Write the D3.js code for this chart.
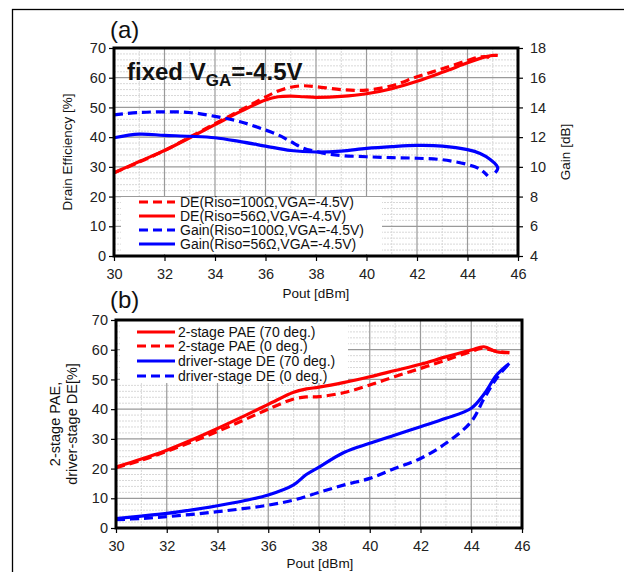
<!DOCTYPE html>
<html><head><meta charset="utf-8">
<script src="https://cdn.jsdelivr.net/npm/d3@7"></script>
<style>body{margin:0;background:#fff}svg{display:block;font-family:"Liberation Sans",Arial,sans-serif}</style>
</head><body>
<svg id="c" width="624" height="572"></svg>
<script>
// ---------- Data ----------
const xTicks = [30,32,34,36,38,40,42,44,46];
const deTicks = [0,10,20,30,40,50,60,70];
const gainTicks = [4,6,8,10,12,14,16,18];
const pTicks = [0,10,20,30,40,50,60,70];

// (a) Drain efficiency [%] vs Pout
const de100_x = [30,31,32,33,34,35,36,36.5,37,37.5,38,39,40,41,42,43,44,44.5,44.8,44.95];
const de100_y = [28,31.6,35.5,40,44.5,49,53.5,55.5,56.8,57.3,57,56,55.8,57.3,60.3,63,65.8,67,67,65.6];
const de56_x = [30,31,32,33,34,35,36,36.5,37,37.5,38,39,40,41,42,43,44,44.5,45,45.2];
const de56_y = [28,31.8,35.5,39.8,44.2,48.6,52.5,53.6,53.8,53.6,53.4,53.7,54.6,56.3,58.8,61.8,65,66.5,67.5,67.5];
// (a) Gain [dB] vs Pout
const g100_x = [30,31,32,33,34,35,36,36.5,37,37.5,38,38.5,39,40,41,42,43,44,44.5,44.8];
const g100_y = [13.5,13.66,13.7,13.66,13.4,13.04,12.48,12.15,11.7,11.26,11.04,10.86,10.76,10.68,10.62,10.58,10.48,10.16,9.84,9.4];
const g56_x = [30,31,32,33,34,35,36,37,38,39,40,41,42,43,44,44.5,44.9,45.15,45.2,45.1];
const g56_y = [11.96,12.2,12.12,12.06,11.96,11.7,11.4,11.1,11.0,11.06,11.24,11.36,11.44,11.4,11.16,10.9,10.5,10.1,9.9,9.6];

// (b) PAE / DE [%] vs Pout
const pae70_x = [30,31,32,33,34,35,36,37,37.5,38,39,40,41,42,43,44,44.5,45,45.5];
const pae70_y = [20.5,23.2,26.2,29.7,33.5,37.5,41.6,45.7,46.8,47.4,49,50.9,53,55.1,57.6,59.9,61,59.3,59];
const pae0_x = [30,31,32,33,34,35,36,37,37.5,38,39,40,41,42,43,44,44.4,45,45.5];
const pae0_y = [20.3,22.8,25.8,29,32.5,36.2,40,43.4,44.1,44.2,45.6,48.1,51,53.7,56.5,59.4,60.4,59.5,59];
const drv70_x = [30,31,32,33,34,35,36,37,37.5,38,39,40,41,42,43,44,44.5,45,45.5];
const drv70_y = [3.2,4,4.9,6.1,7.5,9.1,11.1,14.5,18,20.5,25.5,28.5,31.3,34.1,36.9,40.3,45,51.5,55.4];
const drv0_x = [30,31,32,33,34,35,36,37,38,39,40,41,42,43,44,44.5,45,45.5];
const drv0_y = [2.8,3.2,3.8,4.6,5.5,6.5,7.7,9.4,12,14.5,16.7,20.1,23.4,28.5,35.8,43.5,50.4,55.4];

const legendA = ["DE(Riso=100\u03A9,VGA=-4.5V)","DE(Riso=56\u03A9,VGA=-4.5V)","Gain(Riso=100\u03A9,VGA=-4.5V)","Gain(Riso=56\u03A9,VGA=-4.5V)"];
const legendB = ["2-stage PAE (70 deg.)","2-stage PAE (0 deg.)","driver-stage DE (70 deg.)","driver-stage DE (0 deg.)"];

// ---------- Drawing ----------
const svg = d3.select("#c");
const RED = "#ff0000", BLUE = "#0000ff";
const DASH = "9,5";

svg.append("rect").attr("x",12.5).attr("y",9.5).attr("width",640).attr("height",600)
  .attr("fill","none").attr("stroke","#000").attr("stroke-width",1.3);

function zip(xs, ys){ return xs.map((x,i)=>[x,ys[i]]); }

function panel(o){
  const g = svg.append("g");
  const x = d3.scaleLinear().domain([30,46]).range([o.l,o.r]);
  const y = d3.scaleLinear().domain([0,70]).range([o.b,o.t]);
  g.selectAll(".mv").data(d3.range(31,46,2)).join("line")
    .attr("x1",d=>x(d)).attr("x2",d=>x(d)).attr("y1",o.t).attr("y2",o.b)
    .attr("stroke","#d8d8d8").attr("stroke-width",1).attr("stroke-dasharray","2,1");
  g.selectAll(".mh").data(d3.range(2,70,2).filter(d=>d%10!==0)).join("line")
    .attr("x1",o.l).attr("x2",o.r).attr("y1",d=>y(d)).attr("y2",d=>y(d))
    .attr("stroke","#d8d8d8").attr("stroke-width",1).attr("stroke-dasharray","2,1");
  g.selectAll(".Mv").data(xTicks.slice(1,-1)).join("line")
    .attr("x1",d=>x(d)).attr("x2",d=>x(d)).attr("y1",o.t).attr("y2",o.b)
    .attr("stroke","#9a9a9a").attr("stroke-width",1.2);
  g.selectAll(".Mh").data(o.yt.slice(1,-1)).join("line")
    .attr("x1",o.l).attr("x2",o.r).attr("y1",d=>y(d)).attr("y2",d=>y(d))
    .attr("stroke","#9a9a9a").attr("stroke-width",1.2);
  return {g,x,y};
}

function axes(P,o,yTicksArr){
  const ax = P.g.append("g").attr("transform",`translate(0,${o.b})`)
    .call(d3.axisBottom(P.x).tickValues(xTicks).tickSize(5).tickSizeOuter(0));
  ax.select(".domain").remove();
  ax.selectAll("line").attr("stroke","#000").attr("stroke-width",1.2);
  ax.selectAll("text").attr("font-size",14.5).attr("fill","#222").attr("dy","1.05em").attr("font-family","Liberation Sans, Arial, sans-serif");
  const ay = P.g.append("g").attr("transform",`translate(${o.l},0)`)
    .call(d3.axisLeft(P.y).tickValues(yTicksArr).tickSize(5).tickSizeOuter(0));
  ay.select(".domain").remove();
  ay.selectAll("line").attr("stroke","#000").attr("stroke-width",1.2);
  ay.selectAll("text").attr("font-size",14.5).attr("fill","#222").attr("x",-8).attr("font-family","Liberation Sans, Arial, sans-serif");
}

function curve(P, yscale, xs, ys, color, dashed){
  const line = d3.line().x(d=>P.x(d[0])).y(d=>yscale(d[1])).curve(d3.curveCatmullRom.alpha(0.5));
  P.g.append("path").datum(zip(xs,ys)).attr("d",line).attr("fill","none")
    .attr("stroke",color).attr("stroke-width",3.2).attr("stroke-linejoin","round")
    .attr("stroke-dasharray",dashed?DASH:null);
}

function legend(P, box, items, styles, lineX1, lineX2, textX, rowY){
  P.g.append("rect").attr("x",box[0]).attr("y",box[1]).attr("width",box[2]).attr("height",box[3]).attr("fill","#fff");
  items.forEach((t,i)=>{
    const yy = rowY[i];
    P.g.append("line").attr("x1",lineX1).attr("x2",lineX2).attr("y1",yy).attr("y2",yy)
      .attr("stroke",styles[i][0]).attr("stroke-width",3.2).attr("stroke-dasharray",styles[i][1]?DASH:null);
    P.g.append("text").attr("x",textX).attr("y",yy+5).attr("font-size",14).attr("fill","#111").text(t);
  });
}

// ----- Panel (a)
const oa = {l:114,r:518,t:48,b:256,yt:deTicks};
const A = panel(oa);
const gy = d3.scaleLinear().domain([4,18]).range([oa.b,oa.t]);
legend(A,[121,197,261,57],legendA,[[RED,true],[RED,false],[BLUE,true],[BLUE,false]],139,175,180,[202,216,230,244]);
curve(A,A.y,de56_x,de56_y,RED,false);
curve(A,A.y,de100_x,de100_y,RED,true);
curve(A,gy,g100_x,g100_y,BLUE,true);
curve(A,gy,g56_x,g56_y,BLUE,false);
axes(A,oa,deTicks);
const ar = A.g.append("g").attr("transform",`translate(${oa.r},0)`)
  .call(d3.axisRight(gy).tickValues(gainTicks).tickSize(5).tickSizeOuter(0));
ar.select(".domain").remove();
ar.selectAll("line").attr("stroke","#000").attr("stroke-width",1.2);
ar.selectAll("text").attr("font-size",14.5).attr("fill","#222").attr("x",12).attr("font-family","Liberation Sans, Arial, sans-serif");
A.g.append("rect").attr("x",oa.l).attr("y",oa.t).attr("width",oa.r-oa.l).attr("height",oa.b-oa.t)
  .attr("fill","none").attr("stroke","#000").attr("stroke-width",3);

// titles (a)
svg.append("text").attr("x",110).attr("y",38).attr("font-size",24).attr("fill","#111").text("(a)");
const ft = svg.append("text").attr("x",127).attr("y",80).attr("font-size",24).attr("font-weight","bold").attr("fill","#111");
ft.append("tspan").text("fixed V");
ft.append("tspan").attr("font-size",17).attr("dy",6).text("GA");
ft.append("tspan").attr("dy",-6).text("=-4.5V");
svg.append("text").attr("transform","translate(72,152) rotate(-90)").attr("text-anchor","middle")
  .attr("font-size",13.5).attr("fill","#111").text("Drain Efficiency [%]");
svg.append("text").attr("transform","translate(570,152) rotate(-90)").attr("text-anchor","middle")
  .attr("font-size",13.5).attr("fill","#111").text("Gain [dB]");
svg.append("text").attr("x",316).attr("y",298).attr("text-anchor","middle")
  .attr("font-size",13.5).attr("fill","#111").text("Pout [dBm]");

// ----- Panel (b)
const ob = {l:116,r:522,t:320,b:528,yt:pTicks};
const B = panel(ob);
legend(B,[120,321,228,62],legendB,[[RED,false],[RED,true],[BLUE,false],[BLUE,true]],137,175,178,[332,346,361,376]);
curve(B,B.y,pae0_x,pae0_y,RED,true);
curve(B,B.y,pae70_x,pae70_y,RED,false);
curve(B,B.y,drv0_x,drv0_y,BLUE,true);
curve(B,B.y,drv70_x,drv70_y,BLUE,false);
axes(B,ob,pTicks);
B.g.append("rect").attr("x",ob.l).attr("y",ob.t).attr("width",ob.r-ob.l).attr("height",ob.b-ob.t)
  .attr("fill","none").attr("stroke","#000").attr("stroke-width",3);

svg.append("text").attr("x",110).attr("y",308).attr("font-size",24).attr("fill","#111").text("(b)");
const yb = svg.append("text").attr("transform","translate(60,424) rotate(-90)").attr("text-anchor","middle")
  .attr("font-size",14.5).attr("fill","#111");
yb.append("tspan").attr("x",0).attr("dy",0).text("2-stage PAE,");
yb.append("tspan").attr("x",0).attr("dy",17).text("driver-stage DE[%]");
svg.append("text").attr("x",320).attr("y",568).attr("text-anchor","middle")
  .attr("font-size",13.5).attr("fill","#111").text("Pout [dBm]");
</script>
</body></html>
